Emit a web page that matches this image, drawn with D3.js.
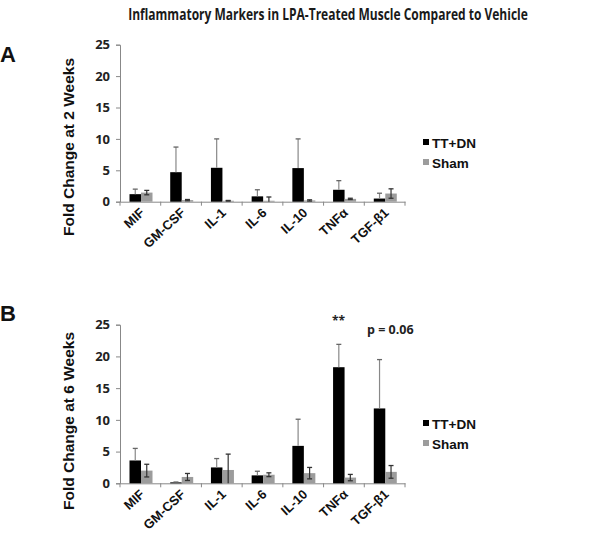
<!DOCTYPE html>
<html><head><meta charset="utf-8">
<script src="https://cdn.jsdelivr.net/npm/d3@7"></script>
<style>body{margin:0;background:#fff}svg{display:block}</style>
</head><body>
<script>
const categories = ["MIF","GM-CSF","IL-1","IL-6","IL-10","TNFα","TGF-β1"];
const seriesNames = ["TT+DN","Sham"];
const yTicks = [0,5,10,15,20,25];
// Panel A: 2 weeks
const a_tt = [1.2, 4.7, 5.4, 0.85, 5.35, 1.9, 0.5];
const a_tt_err = [0.8, 4.0, 4.6, 1.05, 4.65, 1.45, 0.85];
const a_sham = [1.45, 0.25, 0.15, 0.15, 0.2, 0.45, 1.3];
const a_sham_err = [0.35, 0.1, 0.05, 0.6, 0.1, 0.1, 0.75];
// Panel B: 6 weeks
const b_tt = [3.6, 0.15, 2.5, 1.25, 5.9, 18.3, 11.8];
const b_tt_err = [1.9, 0.05, 1.4, 0.65, 4.2, 3.6, 7.7];
const b_sham = [2.0, 1.0, 2.1, 1.35, 1.6, 0.9, 1.8];
const b_sham_err = [1.0, 0.55, 2.5, 0.3, 0.9, 0.5, 1.0];

const W = 600, H = 539;
const svg = d3.select("body").append("svg").attr("width", W).attr("height", H);
const sans = "'Liberation Sans', Arial, sans-serif";
const cal = "'Open Sans', 'Liberation Sans', sans-serif";

// title: rendered then horizontally scaled to the reference width (narrow Calibri-like look)
const tg = svg.append("g");
const tt = tg.append("text").attr("x", 0).attr("y", 0).attr("text-anchor", "middle")
  .attr("font-family", cal).attr("font-weight", "bold").attr("font-size", 16.5)
  .attr("fill", "#1a1a1a").text("Inflammatory Markers in LPA-Treated Muscle Compared to Vehicle");
const tw = tt.node().getComputedTextLength() || 400;
tg.attr("transform", `translate(328,20) scale(${400 / tw},1)`);

function panel(opts) {
  const {letter, letterY, top, bottom, ylabel, ylabelY, tt, ttErr, sham, shamErr, legendY, annotations} = opts;
  const g = svg.append("g");
  const x = d3.scaleBand().domain(categories).range([120, 405]).paddingInner(0).paddingOuter(0);
  const y = d3.scaleLinear().domain([0, 25]).range([bottom, top]);
  const sub = d3.scaleBand().domain(seriesNames).range([9.5, 32.5]);
  const colors = {"TT+DN": "#000", "Sham": "#9c9c9c"};

  g.append("text").attr("x", 0).attr("y", letterY).attr("font-family", sans)
    .attr("font-weight", "bold").attr("font-size", 22).attr("fill", "#111").text(letter);

  // y axis
  const ya = g.append("g").attr("transform", "translate(120,0)")
    .call(d3.axisLeft(y).tickValues(yTicks).tickSize(4).tickPadding(6));
  ya.select(".domain").attr("stroke", "#888");
  ya.selectAll(".tick line").attr("stroke", "#888");
  ya.selectAll(".tick text").attr("font-family", cal).attr("font-weight", "bold")
    .attr("font-size", 13).attr("fill", "#222");

  // x axis
  const xa = g.append("g").attr("transform", `translate(0,${bottom})`)
    .call(d3.axisBottom(x).tickSize(0).tickPadding(0));
  xa.select(".domain").attr("stroke", "#888");
  xa.selectAll(".tick line").remove();
  xa.selectAll(".tick text").attr("font-family", sans).attr("font-weight", "bold")
    .attr("font-size", 13).attr("fill", "#111")
    .attr("text-anchor", "end").attr("dy", 0)
    .attr("transform", "translate(5,12) rotate(-43)");
  // boundary ticks
  const bounds = categories.map(c => x(c)).concat([x.range()[1]]);
  g.append("g").selectAll("line").data(bounds).join("line")
    .attr("x1", d => d).attr("x2", d => d).attr("y1", bottom).attr("y2", bottom + 4)
    .attr("stroke", "#888");

  // y label
  g.append("text").attr("transform", `translate(74,${ylabelY}) rotate(-90)`)
    .attr("text-anchor", "middle").attr("font-family", sans).attr("font-weight", "bold")
    .attr("font-size", 15.5).attr("fill", "#111").text(ylabel);

  const rows = categories.map((c, i) => ({c, vals: [
    {s: "TT+DN", v: tt[i], e: ttErr[i]}, {s: "Sham", v: sham[i], e: shamErr[i]}]}));
  const grp = g.append("g").selectAll("g").data(rows).join("g")
    .attr("transform", d => `translate(${x(d.c)},0)`);
  const items = grp.selectAll("g").data(d => d.vals).join("g");
  items.append("rect").attr("x", d => sub(d.s)).attr("width", sub.bandwidth())
    .attr("y", d => y(d.v)).attr("height", d => y(0) - y(d.v)).attr("fill", d => colors[d.s]);
  const cx = d => sub(d.s) + sub.bandwidth() / 2;
  items.append("line").attr("x1", cx).attr("x2", cx)
    .attr("y1", d => d.s === "Sham" ? y(Math.max(0, d.v - d.e)) : y(d.v))
    .attr("y2", d => y(d.v + d.e))
    .attr("stroke", d => d.s === "Sham" ? "#333" : "#888").attr("stroke-width", 1.2);
  items.append("line").attr("x1", d => cx(d) - 2.5).attr("x2", d => cx(d) + 2.5)
    .attr("y1", d => y(d.v + d.e)).attr("y2", d => y(d.v + d.e))
    .attr("stroke", d => d.s === "Sham" ? "#333" : "#666").attr("stroke-width", 1.3);
  items.filter(d => d.s === "Sham" && d.v - d.e > 0).append("line")
    .attr("x1", d => cx(d) - 2.5).attr("x2", d => cx(d) + 2.5)
    .attr("y1", d => y(d.v - d.e)).attr("y2", d => y(d.v - d.e))
    .attr("stroke", "#333").attr("stroke-width", 1.3);

  // legend
  const lg = g.append("g").attr("transform", `translate(423,${legendY})`);
  seriesNames.forEach((s, i) => {
    lg.append("rect").attr("x", 0).attr("y", i * 20 - 4).attr("width", 6).attr("height", 6)
      .attr("fill", colors[s]);
    lg.append("text").attr("x", 9).attr("y", i * 20 + 5).attr("font-family", sans)
      .attr("font-weight", "bold").attr("font-size", 13.5).attr("fill", "#111").text(s);
  });

  (annotations || []).forEach(a => {
    g.append("text").attr("x", x(a.c) + a.dx).attr("y", y(a.at)).attr("text-anchor", "middle")
      .attr("font-family", cal).attr("font-weight", "bold").attr("font-size", a.size)
      .attr("fill", "#222").text(a.text);
  });
}

panel({letter: "A", letterY: 62, top: 44.7, bottom: 201.7, ylabel: "Fold Change at 2 Weeks", ylabelY: 147,
  tt: a_tt, ttErr: a_tt_err, sham: a_sham, shamErr: a_sham_err, legendY: 143});
panel({letter: "B", letterY: 321, top: 324.7, bottom: 483.3, ylabel: "Fold Change at 6 Weeks", ylabelY: 421,
  tt: b_tt, ttErr: b_tt_err, sham: b_sham, shamErr: b_sham_err, legendY: 424,
  annotations: [{c: "TNFα", dx: 15, at: 24.9, text: "**", size: 12},
                {c: "TGF-β1", dx: 26, at: 23.6, text: "p = 0.06", size: 12.5}]});
</script>
</body></html>
